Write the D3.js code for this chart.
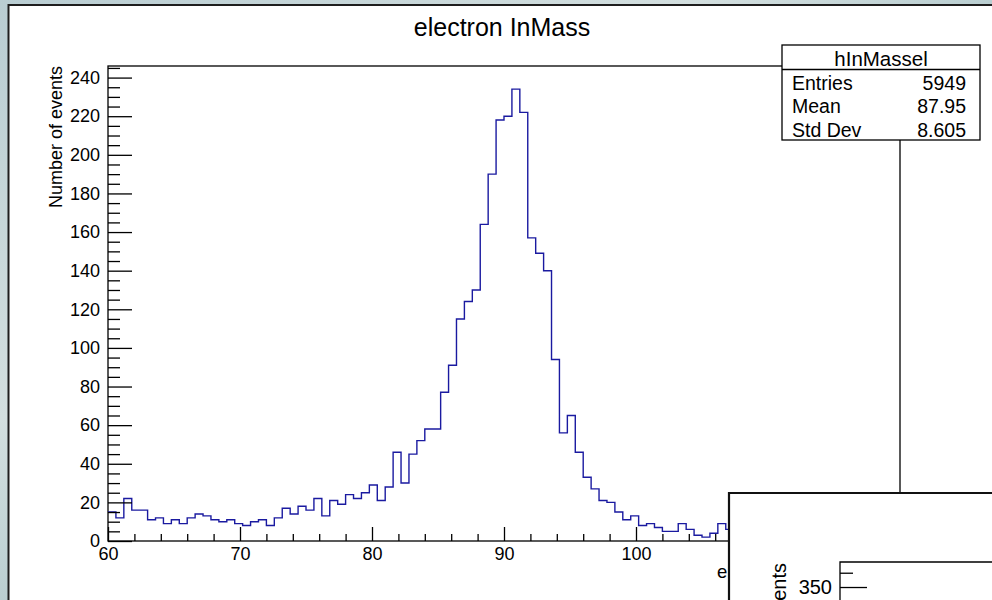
<!DOCTYPE html>
<html>
<head>
<meta charset="utf-8">
<script src="https://cdn.jsdelivr.net/npm/d3@7"></script>
<style>
  html, body { margin: 0; padding: 0; background: #c4d4d8; overflow: hidden; }
  svg { display: block; font-family: "Liberation Sans", Arial, sans-serif; }
</style>
</head>
<body>
<div id="chart"></div>
<script>
const width = 992;
const height = 600;

// hInMassel : 100 bins between 60 and 120 (bins past ~105 are hidden by the second window)
const massRange = [60, 120];
const counts = [
  15, 12, 22, 16, 16, 11, 12, 9, 11, 9,
  12, 14, 13, 11, 10, 11, 9, 8, 10, 11,
  8, 12, 17, 14, 18, 16, 22, 13, 21, 19,
  24, 22, 25, 29, 21, 28, 46, 30, 45, 52,
  58, 58, 77, 91, 115, 124, 130, 164, 190, 218,
  220, 234, 222, 157, 149, 140, 94, 56, 65, 46,
  33, 27, 21, 20, 15, 11, 13, 8, 9, 7,
  5, 5, 9, 6, 3, 2, 4, 9, 6, 5,
  4, 6, 3, 4, 5, 3, 4, 2, 3, 4,
  3, 2, 3, 2, 4, 2, 3, 2, 1, 2
];
const xTicks = [60, 70, 80, 90, 100, 110, 120];
const yTicks = [0, 20, 40, 60, 80, 100, 120, 140, 160, 180, 200, 220, 240];
const statNames = ["Entries", "Mean", "Std Dev"];
const statValues = ["5949", "87.95", "8.605"];
const insetTicks = [300, 350];

const svg = d3.select("#chart").append("svg")
    .attr("width", width)
    .attr("height", height);

// desktop behind the canvas window
const defs = svg.append("defs");
const grad = defs.append("linearGradient").attr("id", "desk")
    .attr("x1", 0).attr("y1", 0).attr("x2", 1).attr("y2", 1);
grad.append("stop").attr("offset", "0%").attr("stop-color", "#b9cdd2");
grad.append("stop").attr("offset", "35%").attr("stop-color", "#d3dfdf");
grad.append("stop").attr("offset", "60%").attr("stop-color", "#aac4c8");
grad.append("stop").attr("offset", "100%").attr("stop-color", "#c8d8d6");
svg.append("rect").attr("width", width).attr("height", height).attr("fill", "url(#desk)");

// the part of the main pad not covered by the second window
defs.append("clipPath").attr("id", "uncovered")
  .append("rect").attr("x", 0).attr("y", 0).attr("width", 729).attr("height", height);

// canvas
svg.append("rect").attr("x", 8.5).attr("y", 5).attr("width", width).attr("height", height)
    .attr("fill", "#fff");
svg.append("path").attr("d", `M8.5,${height}V5H${width}`)
    .attr("fill", "none").attr("stroke", "#1e1e1e").attr("stroke-width", 2);

const frame = { left: 108, right: 900, top: 66, bottom: 541 };

const x = d3.scaleLinear().domain(massRange).range([frame.left, frame.right]);
const y = d3.scaleLinear().domain([0, 246]).range([frame.bottom, frame.top]);

// title
svg.append("text")
    .attr("x", 502).attr("y", 36)
    .attr("text-anchor", "middle")
    .attr("font-size", 25)
    .text("electron InMass");

// frame
svg.append("rect")
    .attr("x", frame.left).attr("y", frame.top)
    .attr("width", frame.right - frame.left).attr("height", frame.bottom - frame.top)
    .attr("fill", "none").attr("stroke", "#000").attr("stroke-width", 1.3);

// histogram outline
const binWidth = (massRange[1] - massRange[0]) / counts.length;
const steps = counts.map((c, i) => [massRange[0] + i * binWidth, c]);
steps.push([massRange[1], counts[counts.length - 1]]);

svg.append("path")
    .datum(steps)
    .attr("fill", "none")
    .attr("stroke", "#1a1aa0")
    .attr("stroke-width", 1.4)
    .attr("d", d3.line().x(d => x(d[0])).y(d => y(d[1])).curve(d3.curveStepAfter));

// axes (ticks point into the frame like ROOT)
const yMinor = d3.range(0, 246, 5).filter(v => v % 20 !== 0);
const xMinor = d3.range(60, 121, 2).filter(v => v % 10 !== 0);

svg.append("g")
    .attr("transform", `translate(${frame.left},0)`)
    .call(d3.axisLeft(y).tickValues(yMinor).tickSizeInner(-12).tickSizeOuter(0).tickFormat(""))
    .call(g => g.select(".domain").remove());

svg.append("g")
    .attr("transform", `translate(${frame.left},0)`)
    .call(d3.axisLeft(y).tickValues(yTicks).tickSizeInner(-24).tickSizeOuter(0).tickPadding(8))
    .call(g => g.select(".domain").remove())
    .call(g => g.selectAll("text").attr("font-size", 18).attr("font-family", "Liberation Sans, Arial, sans-serif").attr("fill", "#000"));

svg.append("g")
    .attr("transform", `translate(0,${frame.bottom})`)
    .call(d3.axisBottom(x).tickValues(xMinor).tickSizeInner(-7).tickSizeOuter(0).tickFormat(""))
    .call(g => g.select(".domain").remove());

svg.append("g")
    .attr("transform", `translate(0,${frame.bottom})`)
    .call(d3.axisBottom(x).tickValues(xTicks).tickSizeInner(-14).tickSizeOuter(0).tickPadding(6))
    .call(g => g.select(".domain").remove())
    .call(g => g.selectAll("text").attr("font-size", 18).attr("font-family", "Liberation Sans, Arial, sans-serif").attr("fill", "#000"));

svg.selectAll(".tick line").attr("stroke", "#000").attr("stroke-width", 1.3);

// axis titles
svg.append("text")
    .attr("transform", `translate(62,${frame.top}) rotate(-90)`)
    .attr("text-anchor", "end")
    .attr("font-size", 18)
    .text("Number of events");

svg.append("text")
    .attr("x", frame.right).attr("y", 578)
    .attr("text-anchor", "end")
    .attr("font-size", 18.5)
    .attr("clip-path", "url(#uncovered)")
    .text("electron InMass [GeV]");

// stats box
const stats = { x: 782, y: 45, w: 198, h: 95, header: 69.5 };
svg.append("rect")
    .attr("x", stats.x).attr("y", stats.y).attr("width", stats.w).attr("height", stats.h)
    .attr("fill", "#fff").attr("stroke", "#000").attr("stroke-width", 1.3);
svg.append("line")
    .attr("x1", stats.x).attr("x2", stats.x + stats.w)
    .attr("y1", stats.header).attr("y2", stats.header)
    .attr("stroke", "#000").attr("stroke-width", 1.3);
svg.append("text")
    .attr("x", stats.x + stats.w / 2).attr("y", 65.5)
    .attr("text-anchor", "middle").attr("font-size", 20.5)
    .text("hInMassel");

const rowY = [90, 113.3, 136.7];
svg.append("g").selectAll("text").data(statNames).join("text")
    .attr("x", stats.x + 10).attr("y", (d, i) => rowY[i])
    .attr("font-size", 19.5)
    .text(d => d);
svg.append("g").selectAll("text").data(statValues).join("text")
    .attr("x", stats.x + stats.w - 14).attr("y", (d, i) => rowY[i])
    .attr("text-anchor", "end")
    .attr("font-size", 19.5)
    .text(d => d);

// second canvas window overlapping the lower right corner
const inset = { left: 729, top: 493 };
svg.append("rect")
    .attr("x", inset.left).attr("y", inset.top)
    .attr("width", width - inset.left + 5).attr("height", height - inset.top + 5)
    .attr("fill", "#fff");
svg.append("path").attr("d", `M${inset.left},${height}V${inset.top}H${width}`)
    .attr("fill", "none").attr("stroke", "#111").attr("stroke-width", 2.2);

const insetFrame = { left: 840, top: 562 };
const yInset = d3.scaleLinear().domain([300, 367.5]).range([658.5, insetFrame.top]);

svg.append("path").attr("d", `M${insetFrame.left},${height}V${insetFrame.top}H${width}`)
    .attr("fill", "none").attr("stroke", "#000").attr("stroke-width", 1.3);

svg.append("g")
    .attr("transform", `translate(${insetFrame.left},0)`)
    .call(d3.axisLeft(yInset).tickValues([310, 320, 330, 340, 360]).tickSizeInner(-13).tickSizeOuter(0).tickFormat(""))
    .call(g => g.select(".domain").remove());
svg.append("g")
    .attr("transform", `translate(${insetFrame.left},0)`)
    .call(d3.axisLeft(yInset).tickValues(insetTicks).tickSizeInner(-27).tickSizeOuter(0).tickPadding(8))
    .call(g => g.select(".domain").remove())
    .call(g => g.selectAll("text").attr("font-size", 20).attr("font-family", "Liberation Sans, Arial, sans-serif").attr("fill", "#000"));
svg.selectAll(".tick line").attr("stroke", "#000").attr("stroke-width", 1.3);

svg.append("text")
    .attr("transform", `translate(786,${insetFrame.top + 1}) rotate(-90)`)
    .attr("text-anchor", "end")
    .attr("font-size", 20)
    .text("Number of events");
</script>
</body>
</html>
